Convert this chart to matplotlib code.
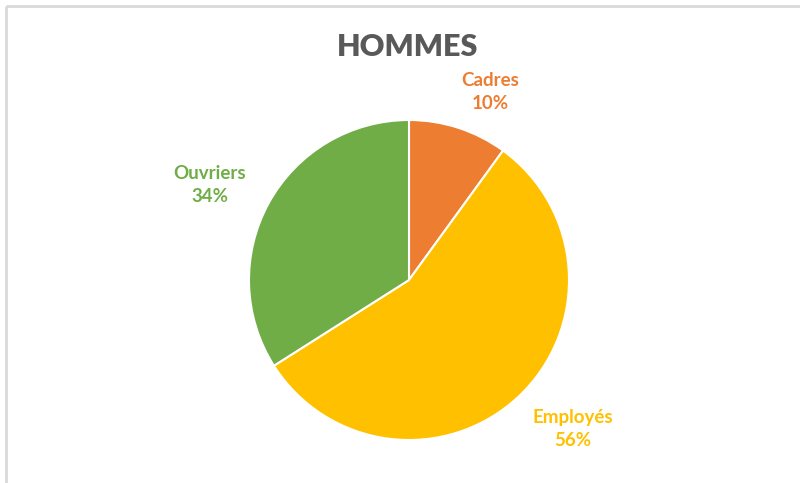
import matplotlib
matplotlib.use('Agg')
import matplotlib.pyplot as plt

# data
categories = ['Cadres', 'Employés', 'Ouvriers']
values = [10, 56, 34]
colors = ['#ED7D31', '#FFC000', '#70AD47']
label_pos = [(490, 92), (573, 429), (210, 185)]  # pixel centres of the labels

plt.rcParams['font.family'] = ['Lato', 'DejaVu Sans']

W, H = 800, 483
fig = plt.figure(figsize=(W / 100, H / 100), dpi=100)
ax = fig.add_axes([0, 0, 1, 1])
ax.set_xlim(0, W)
ax.set_ylim(0, H)
ax.set_aspect('equal')
ax.axis('off')

# chart frame (only left and top edges are visible in the crop)
ax.plot([6, 6], [0, H - 6], color='#d9d9d9', lw=2, solid_capstyle='butt')
ax.plot([6, W], [H - 6, H - 6], color='#d9d9d9', lw=2, solid_capstyle='butt')

# pie, clockwise from 12 o'clock
ax.pie(values, colors=colors, startangle=90, counterclock=False,
       center=(409, H - 280), radius=160,
       wedgeprops={'linewidth': 1.5, 'edgecolor': 'white'})
ax.set_xlim(0, W)
ax.set_ylim(0, H)

ax.text(408, H - 47, 'HOMMES', ha='center', va='center',
        fontsize=22, fontweight='heavy', color='#595959')

for cat, v, c, (x, y) in zip(categories, values, colors, label_pos):
    ax.text(x, H - y, f'{cat}\n{v}%', ha='center', va='center',
            fontsize=13.5, fontweight='bold', color=c, linespacing=1.45)

fig.savefig('out.png', dpi=100)
